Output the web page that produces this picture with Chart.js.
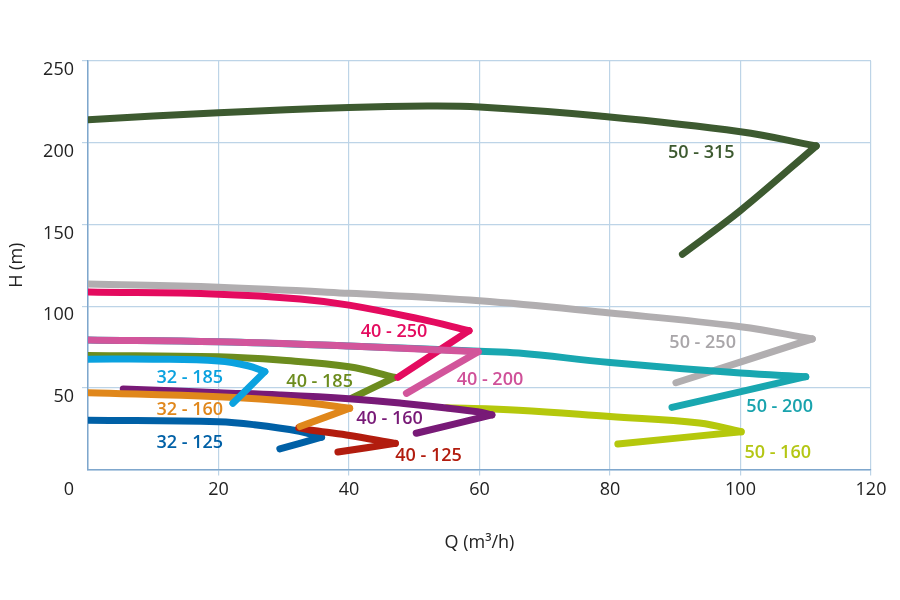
<!DOCTYPE html>
<html><head><meta charset="utf-8">
<script src="https://cdn.jsdelivr.net/npm/chart.js@4.4.1/dist/chart.umd.min.js"></script>
<style>html,body{margin:0;padding:0;background:#fff}#wrap{width:900px;height:600px;position:relative}</style>
</head><body><div id="wrap"><canvas id="c"></canvas></div>
<script>
// ---- data (Q in m3/h, H in m); each curve: rising-Q branch up to its tip, then the tail ----
const xTicks = [0, 20, 40, 60, 80, 100, 120];
const yTicks = [0, 50, 100, 150, 200, 250];

const q50_160 = [55, 66, 80, 93.7, 100.1, 81.2];
const h50_160 = [37.8, 36.3, 32.4, 28.4, 23.1, 15.6];

const q50_250 = [0, 20, 40, 60, 80, 100, 111, 90.1];
const h50_250 = [113.5, 111.5, 107.8, 103.3, 95.8, 87.4, 79.9, 53.1];

const q50_200 = [0, 20, 40, 60, 66, 80, 100, 110, 89.5];
const h50_200 = [79.3, 78.2, 75.6, 72.4, 71.3, 65.5, 59, 56.8, 38];

const q50_315 = [0, 20, 40, 52, 60, 78.4, 100, 111.6, 100, 91.1];
const h50_315 = [214, 218.4, 221.6, 222.4, 221.8, 216.3, 206.7, 198, 158.5, 131.7];

const q40_185 = [0, 20, 29.4, 40, 47, 40.5];
const h40_185 = [69.8, 69, 67, 62.9, 56.4, 43.8];

const q40_250 = [0, 20, 32.5, 40, 51, 58.4, 47.5];
const h40_250 = [108.6, 107.3, 104.4, 100.6, 92, 85, 56.4];

const q40_200 = [0, 20, 40, 59.8, 48.8];
const h40_200 = [79.3, 78.2, 75.6, 72.1, 46.6];

const q40_160 = [5.4, 20, 29.4, 40, 47.8, 59.7, 61.9, 50.3];
const h40_160 = [49.3, 47, 45.6, 43.3, 40.7, 35.4, 33.4, 22.2];

const q32_125 = [0, 20, 25.5, 32.4, 35.8, 29.4];
const h32_125 = [30.2, 29.2, 27.4, 23.4, 19.8, 12.6];

const q40_125 = [32.3, 34, 39.6, 47.1, 38.3];
const h40_125 = [25.5, 24.2, 21.1, 16, 10.7];

const q32_160 = [0, 20, 32.4, 40.1, 32.5];
const h32_160 = [47, 44.5, 41.3, 37.5, 26.3];

const q32_185 = [0, 10, 20, 24.5, 27.1, 22.2];
const h32_185 = [67.5, 67.5, 66.4, 63.5, 59.9, 40.5];

// curve names, in drawing order (bottom to top)
const names = ['50 - 160', '50 - 250', '50 - 200', '50 - 315', '40 - 185', '40 - 250',
               '40 - 200', '40 - 160', '32 - 125', '40 - 125', '32 - 160', '32 - 185'];
const seriesQ = [q50_160, q50_250, q50_200, q50_315, q40_185, q40_250, q40_200, q40_160, q32_125, q40_125, q32_160, q32_185];
const seriesH = [h50_160, h50_250, h50_200, h50_315, h40_185, h40_250, h40_200, h40_160, h32_125, h40_125, h32_160, h32_185];
// label anchor (in Q / H units)
const labelQ = [105.7, 94.2, 106.0, 94.0, 35.5, 46.9, 61.6, 46.2, 15.6, 52.2, 15.6, 15.6];
const labelH = [10.3, 77.2, 38.4, 193.7, 53.7, 84.0, 54.8, 30.9, 16.6, 8.4, 36.4, 56.2];

// ---- styles ----
const colors = ['#b5c80c', '#b1aeb0', '#19a7b0', '#3d5a30', '#6c8c1e', '#e40b5f',
                '#d2559b', '#781a77', '#0060a6', '#b21c0e', '#e0871b', '#0ba2df'];
const labelColors = ['#b4c614', '#a9a6a9', '#19a3ad', '#3d5a30', '#6c8c1e', '#e40b5f',
                     '#cf5199', '#781a77', '#0060a6', '#b21c0e', '#e0871b', '#0ba2df'];
const FONT = '"Open Sans", "Noto Sans", sans-serif';
const gridColor = '#bdd4e7';
const axisColor = '#7fa7cd';

const lineStyle = c => ({
  showLine: true, borderColor: c, backgroundColor: c, borderWidth: 7,
  borderCapStyle: 'round', borderJoinStyle: 'round',
  pointRadius: 0, pointHoverRadius: 0, fill: false
});

const datasets = [];
names.forEach((n, i) => {
  const pts = seriesQ[i].map((q, k) => ({ x: q, y: seriesH[i][k] }));
  let tip = 0;
  pts.forEach((p, k) => { if (p.x > pts[tip].x) tip = k; });
  datasets.push(Object.assign(lineStyle(colors[i]), {
    label: n, data: pts.slice(0, tip + 1), tension: 0.4
  }));
  datasets.push(Object.assign(lineStyle(colors[i]), {
    label: n + ' tail', data: pts.slice(tip), tension: 0.35
  }));
});
datasets.forEach((d, i) => { d.order = datasets.length - i; });

const curveLabels = {
  id: 'curveLabels',
  afterDatasetsDraw(chart) {
    const { ctx, scales: { x, y } } = chart;
    ctx.save();
    ctx.font = '600 18px ' + FONT;
    ctx.textAlign = 'center';
    ctx.textBaseline = 'middle';
    names.forEach((n, i) => {
      ctx.fillStyle = labelColors[i];
      ctx.fillText(n, x.getPixelForValue(labelQ[i]), y.getPixelForValue(labelH[i]));
    });
    ctx.restore();
  }
};
const originLabel = {
  id: 'originLabel',
  afterDraw(chart) {
    const { ctx, chartArea, scales: { y } } = chart;
    ctx.save();
    ctx.font = '18px ' + FONT;
    ctx.fillStyle = '#222';
    ctx.textAlign = 'right';
    ctx.textBaseline = 'middle';
    ctx.fillText(String(xTicks[0]), y.right - 14, chartArea.bottom + 20);
    ctx.restore();
  }
};

new Chart(document.getElementById('c'), {
  type: 'scatter',
  data: { datasets },
  plugins: [curveLabels, originLabel],
  options: {
    responsive: true,
    maintainAspectRatio: false,
    animation: false,
    devicePixelRatio: 1,
    layout: { padding: { left: 0, right: 29, top: 61, bottom: 0 } },
    plugins: { legend: { display: false }, tooltip: { enabled: false } },
    scales: {
      x: {
        type: 'linear', min: xTicks[0], max: xTicks[xTicks.length - 1],
        afterBuildTicks: s => { s.ticks = xTicks.map(v => ({ value: v })); },
        afterFit: s => { s.height = 130.5; },
        ticks: {
          callback: v => (v === 0 ? '' : v),
          font: { family: FONT, size: 18 }, color: '#222', padding: 4, maxRotation: 0
        },
        grid: {
          color: gridColor, lineWidth: 1.2, tickLength: 6,
          tickColor: c => (c.index === 0 ? 'rgba(0,0,0,0)' : gridColor)
        },
        border: { color: axisColor, width: 1.5 },
        title: {
          display: true, text: 'Q (m³/h)', color: '#222',
          font: { family: FONT, size: 18 }, padding: { top: 0, bottom: 46 }
        }
      },
      y: {
        type: 'linear', min: yTicks[0], max: yTicks[yTicks.length - 1],
        afterBuildTicks: s => { s.ticks = yTicks.map(v => ({ value: v })); },
        afterFit: s => { s.width = 88; },
        ticks: {
          callback: v => (v === 0 ? '' : v),
          font: { family: FONT, size: 18 }, color: '#222', padding: 8, labelOffset: 9
        },
        grid: {
          color: gridColor, lineWidth: 1.2, tickLength: 6,
          tickColor: c => (c.index === 0 ? 'rgba(0,0,0,0)' : gridColor)
        },
        border: { color: axisColor, width: 1.5 },
        title: {
          display: true, text: 'H (m)', color: '#222',
          font: { family: FONT, size: 18 }, padding: { top: 6, bottom: 0 }
        }
      }
    }
  }
});
</script>
</body></html>
